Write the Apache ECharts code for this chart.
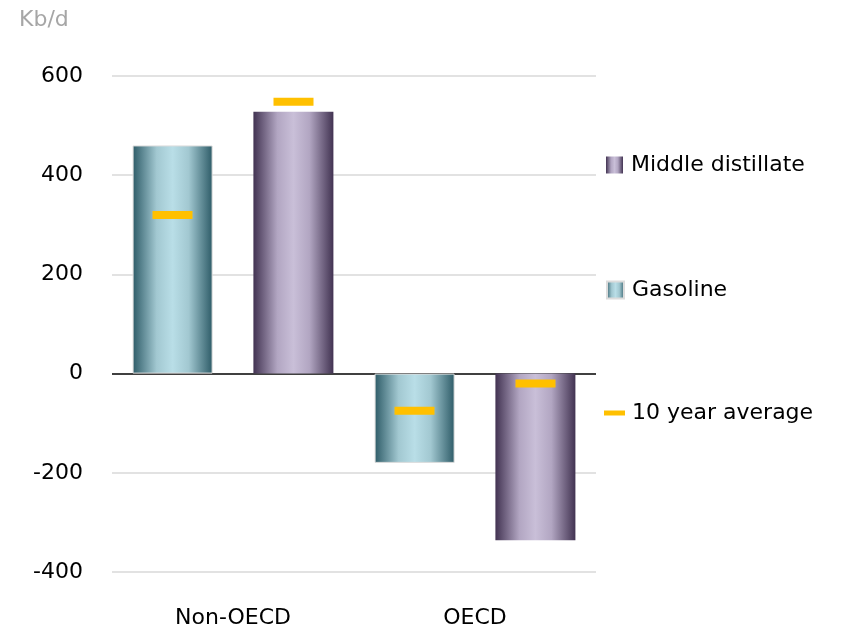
<!DOCTYPE html>
<html>
<head>
<meta charset="utf-8">
<script src="https://cdn.jsdelivr.net/npm/echarts@6/dist/echarts.min.js"></script>
<style>html,body{margin:0;padding:0;background:#fff}#c{width:846px;height:631px}</style>
</head>
<body>
<div id="c"></div>
<script>
const categories = ['Non-OECD', 'OECD'];
const gasoline = [460, -180];
const middleDistillate = [528, -336];
const avgGasoline = [320, -75];
const avgMiddle = [548, -20];
const yTicks = { min: -400, max: 600, interval: 200 };
const unitLabel = 'Kb/d';

const FONT = '"DejaVu Sans", Verdana, sans-serif';

function hGrad(edge, mid1, mid) {
  return new echarts.graphic.LinearGradient(0, 0, 1, 0, [
    { offset: 0, color: edge },
    { offset: 0.3, color: mid1 },
    { offset: 0.5, color: mid },
    { offset: 0.7, color: mid1 },
    { offset: 1, color: edge }
  ]);
}
const gasColor = hGrad('#2d5b67', '#a2c8d1', '#b9dee7');
const mdColor = hGrad('#423352', '#b2a6c2', '#c9bfd8');

const avgData = [];
avgGasoline.forEach((v, i) => avgData.push([i, v, -1]));
avgMiddle.forEach((v, i) => avgData.push([i, v, 1]));

const legendText = { fontSize: 22, color: '#000', fontFamily: FONT, padding: [0, 0, 0, 3] };

const chart = echarts.init(document.getElementById('c'), null, { renderer: 'canvas' });
chart.setOption({
  animation: false,
  backgroundColor: '#fff',
  title: {
    text: unitLabel, left: 14, top: 4,
    textStyle: { color: '#a6a6a6', fontSize: 22, fontWeight: 'normal', fontFamily: FONT }
  },
  grid: { left: 112, right: 250, top: 76, bottom: 59 },
  legend: [
    { data: [{ name: 'Middle distillate', icon: 'rect' }], left: 601, top: 149, itemWidth: 17, itemHeight: 17, textStyle: legendText },
    { data: [{ name: 'Gasoline', icon: 'rect' }], left: 601, top: 274, itemWidth: 17, itemHeight: 17, textStyle: legendText },
    { data: [{ name: '10 year average', icon: 'rect', itemStyle: { color: '#FFC000' } }], left: 599, top: 397, itemWidth: 21, itemHeight: 5,
      textStyle: Object.assign({}, legendText, { padding: [0, 0, 0, 2] }) }
  ],
  xAxis: {
    type: 'category', data: categories, position: 'bottom',
    axisLine: { show: false, onZero: false }, axisTick: { show: false },
    axisLabel: { fontSize: 22, color: '#000', fontFamily: FONT, margin: 35 }
  },
  yAxis: {
    type: 'value', min: yTicks.min, max: yTicks.max, interval: yTicks.interval,
    axisLine: { show: false }, axisTick: { show: false },
    axisLabel: { fontSize: 22, color: '#000', fontFamily: FONT, margin: 29 },
    splitLine: { lineStyle: { width: 1.6, color: ['#d9d9d9', '#d9d9d9', '#000000', '#d9d9d9', '#d9d9d9', '#d9d9d9'] } }
  },
  series: [
    { name: 'Gasoline', type: 'bar', data: gasoline, barWidth: 80, barGap: '51%',
      itemStyle: { color: gasColor, borderColor: '#dcdcdc', borderWidth: 1 } },
    { name: 'Middle distillate', type: 'bar', data: middleDistillate, barWidth: 80,
      itemStyle: { color: mdColor } },
    { name: '10 year average', type: 'custom', data: avgData, z: 10,
      itemStyle: { color: '#FFC000' },
      renderItem: function (params, api) {
        const p = api.coord([api.value(0), api.value(1)]);
        const bw = api.size([1, 0])[0];
        const x = p[0] + api.value(2) * bw * 0.25;
        return { type: 'rect', shape: { x: x - 20, y: p[1] - 4, width: 40, height: 8 }, style: { fill: '#FFC000' } };
      }
    }
  ]
});
</script>
</body>
</html>
